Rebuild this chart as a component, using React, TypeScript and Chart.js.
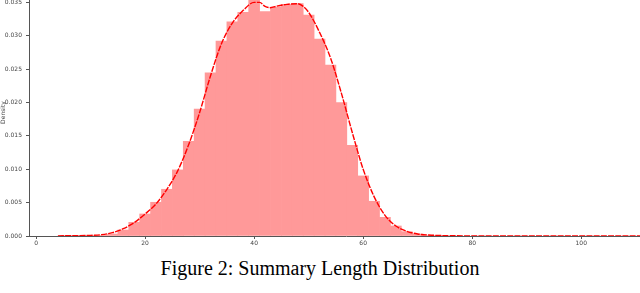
import React, { useEffect, useRef } from "react";
import { Chart, registerables } from "chart.js";

Chart.register(...registerables);

// Histogram bins (centres, width 2) and their densities
const binCenters = [6, 8, 10, 12, 14, 16, 18, 20, 22, 24, 26, 28, 30, 32, 34, 36, 38, 40, 42, 44, 46, 48, 50, 52, 54, 56, 58, 60, 62, 64, 66, 68, 70, 72, 74];
const binDensity = [0.00003, 0.00005, 0.0001, 0.0001, 0.0003, 0.0009, 0.00205, 0.0033, 0.00505, 0.007, 0.0099, 0.0142, 0.019, 0.02445, 0.0292, 0.0321, 0.0335, 0.0353, 0.0336, 0.0343, 0.0347, 0.0348, 0.0331, 0.0295, 0.0256, 0.02, 0.0136, 0.009, 0.0052, 0.0028, 0.0015, 0.00065, 0.0003, 0.00012, 0.00005];

// KDE curve
const kdeX = [4, 8, 10, 12, 14, 16, 18, 20, 22, 24, 26, 28, 30, 32, 34, 36, 38, 40, 41, 42, 43, 44, 46, 48, 49, 50, 52, 54, 56, 58, 60, 62, 64, 66, 68, 70, 72, 75, 80, 90, 100, 116];
const kdeY = [0.00002, 0.00005, 0.0001, 0.0002, 0.0005, 0.0011, 0.002, 0.0033, 0.0048, 0.007, 0.0098, 0.0137, 0.0185, 0.024, 0.0288, 0.0319, 0.0338, 0.035, 0.035, 0.0344, 0.0342, 0.0344, 0.0347, 0.0348, 0.0344, 0.0335, 0.0305, 0.0267, 0.0214, 0.0155, 0.01, 0.0059, 0.0031, 0.0015, 0.0007, 0.0003, 0.00015, 0.00005, 0.00002, 0, 0, 0];

const xTicks = [0, 20, 40, 60, 80, 100];
const yTicks = [0, 0.005, 0.01, 0.015, 0.02, 0.025, 0.03, 0.035];
const yTickLabels = ["0.000", "0.005", "0.010", "0.015", "0.020", "0.025", "0.030", "0.035"];

const caption = "Figure 2: Summary Length Distribution";
const yTitle = "Density";

export default function App() {
  const ref = useRef<HTMLCanvasElement | null>(null);

  useEffect(() => {
    if (!ref.current) return;
    const axisColor = "#555";
    const tickFont = { family: "DejaVu Sans", size: 6 };
    const chart = new Chart(ref.current, {
      type: "bar",
      data: {
        datasets: [
          {
            type: "line",
            data: kdeX.map((x, i) => ({ x, y: kdeY[i] })),
            borderColor: "#ff0000",
            borderWidth: 1.4,
            borderDash: [6, 1.2],
            pointRadius: 0,
            cubicInterpolationMode: "monotone",
            fill: false,
            order: 0,
          } as any,
          {
            type: "bar",
            data: binCenters.map((x, i) => ({ x, y: binDensity[i] })),
            backgroundColor: "#ff9999",
            borderWidth: 0,
            barPercentage: 1,
            categoryPercentage: 1,
            order: 1,
          } as any,
        ],
      },
      options: {
        animation: false,
        responsive: false,
        maintainAspectRatio: false,
        layout: { padding: { top: 9, right: 7, left: 0, bottom: 0 } },
        plugins: { legend: { display: false }, tooltip: { enabled: false } },
        scales: {
          x: {
            type: "linear",
            min: -1.3,
            max: 115,
            offset: false,
            grid: { display: true, offset: false, drawOnChartArea: false, drawTicks: true, tickLength: 3, color: axisColor },
            border: { display: true, color: axisColor, width: 1 },
            ticks: { font: tickFont, color: "#444", padding: 1, maxRotation: 0, callback: (v: any) => String(v) },
            afterBuildTicks: (s: any) => {
              s.ticks = xTicks.map((v) => ({ value: v }));
            },
            afterFit: (s: any) => {
              s.height = 14;
            },
          },
          y: {
            type: "linear",
            min: 0,
            max: 0.037,
            grid: { display: true, drawOnChartArea: false, drawTicks: true, tickLength: 3, color: axisColor },
            border: { display: true, color: axisColor, width: 1 },
            ticks: {
              font: tickFont,
              color: "#444",
              padding: 4,
              callback: (v: any) => {
                const i = yTicks.findIndex((t) => Math.abs(t - v) < 1e-9);
                return i >= 0 ? yTickLabels[i] : "";
              },
            },
            afterBuildTicks: (s: any) => {
              s.ticks = yTicks.map((v) => ({ value: v }));
            },
            title: { display: true, text: yTitle, font: { family: "DejaVu Sans", size: 6 }, color: "#444", padding: { top: 0, bottom: 0 } },
            afterFit: (s: any) => {
              s.width = 29;
            },
          },
        },
      },
    });
    return () => chart.destroy();
  }, []);

  return (
    <div style={{ position: "fixed", left: 0, top: 0, width: 640, height: 293, overflow: "hidden", background: "#fff" }}>
      <canvas ref={ref} width={670} height={270} style={{ position: "absolute", left: 0, top: -20, width: 670, height: 270 }} />
      <div
        style={{
          position: "absolute",
          left: 0,
          top: 257,
          width: 640,
          textAlign: "center",
          fontFamily: "'Liberation Serif', 'Times New Roman', serif",
          fontSize: 20,
          lineHeight: "22px",
          color: "#000",
        }}
      >
        {caption}
      </div>
    </div>
  );
}
